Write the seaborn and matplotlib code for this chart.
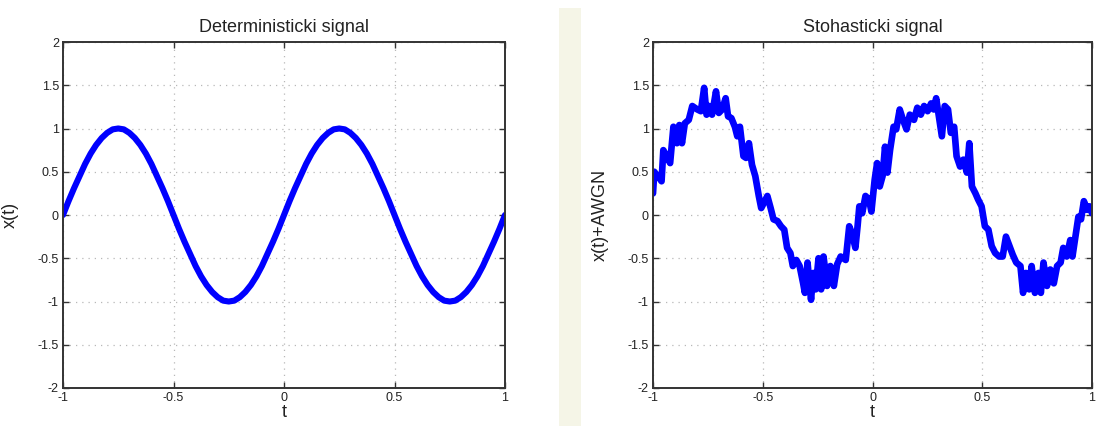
import numpy as np
import pandas as pd
import matplotlib
matplotlib.use("Agg")
import matplotlib.pyplot as plt
from matplotlib.patches import Rectangle
import seaborn as sns

# ---------------- data ----------------
t_det = [round(-1 + 0.025 * k, 3) for k in range(81)]
x_det = [0.00, 0.16, 0.31, 0.45, 0.59, 0.71, 0.81, 0.89, 0.95, 0.99,
         1.00, 0.99, 0.95, 0.89, 0.81, 0.71, 0.59, 0.45, 0.31, 0.16,
         0.00, -0.16, -0.31, -0.45, -0.59, -0.71, -0.81, -0.89, -0.95, -0.99,
         -1.00, -0.99, -0.95, -0.89, -0.81, -0.71, -0.59, -0.45, -0.31, -0.16,
         0.00, 0.16, 0.31, 0.45, 0.59, 0.71, 0.81, 0.89, 0.95, 0.99,
         1.00, 0.99, 0.95, 0.89, 0.81, 0.71, 0.59, 0.45, 0.31, 0.16,
         0.00, -0.16, -0.31, -0.45, -0.59, -0.71, -0.81, -0.89, -0.95, -0.99,
         -1.00, -0.99, -0.95, -0.89, -0.81, -0.71, -0.59, -0.45, -0.31, -0.16,
         0.00]

t_sto = [-1.000, -0.994, -0.989, -0.977, -0.961, -0.953, -0.938, -0.922, -0.907, -0.891,
         -0.880, -0.868, -0.855, -0.837, -0.821, -0.798, -0.782, -0.767, -0.756, -0.744,
         -0.731, -0.713, -0.700, -0.685, -0.669, -0.658, -0.643, -0.627, -0.616, -0.604,
         -0.588, -0.576, -0.563, -0.549, -0.534, -0.518, -0.507, -0.495, -0.479, -0.464,
         -0.451, -0.433, -0.417, -0.402, -0.389, -0.374, -0.363, -0.347, -0.332, -0.316,
         -0.308, -0.296, -0.280, -0.270, -0.259, -0.246, -0.234, -0.223, -0.207, -0.192,
         -0.176, -0.161, -0.145, -0.122, -0.106, -0.094, -0.078, -0.068, -0.060, -0.047,
         -0.032, -0.016, -0.005, 0.010, 0.021, 0.033, 0.046, 0.057, 0.068, 0.080,
         0.096, 0.108, 0.124, 0.139, 0.155, 0.170, 0.189, 0.204, 0.220, 0.235,
         0.251, 0.267, 0.279, 0.290, 0.305, 0.316, 0.329, 0.344, 0.357, 0.372,
         0.383, 0.399, 0.414, 0.430, 0.441, 0.453, 0.469, 0.481, 0.497, 0.512,
         0.528, 0.543, 0.559, 0.577, 0.593, 0.608, 0.624, 0.639, 0.655, 0.674,
         0.686, 0.699, 0.714, 0.725, 0.740, 0.756, 0.767, 0.779, 0.795, 0.810,
         0.826, 0.841, 0.857, 0.869, 0.885, 0.901, 0.911, 0.927, 0.938, 0.950,
         0.963, 0.978, 0.989, 1.000]
x_sto = [0.25, 0.50, 0.48, 0.45, 0.39, 0.75, 0.68, 0.60, 1.02, 0.83,
         1.04, 0.83, 1.06, 1.10, 1.26, 1.22, 1.20, 1.47, 1.16, 1.26,
         1.16, 1.43, 1.18, 1.22, 1.35, 1.14, 1.12, 1.02, 0.91, 1.02,
         0.68, 0.66, 0.83, 0.58, 0.45, 0.22, 0.08, 0.14, 0.22, 0.08,
         -0.05, -0.07, -0.13, -0.17, -0.38, -0.44, -0.59, -0.52, -0.59, -0.79,
         -0.90, -0.55, -0.98, -0.67, -0.86, -0.50, -0.86, -0.48, -0.82, -0.59,
         -0.82, -0.57, -0.48, -0.52, -0.13, -0.21, -0.38, -0.13, 0.10, 0.02,
         0.22, 0.18, 0.04, 0.41, 0.60, 0.33, 0.45, 0.79, 0.49, 0.75,
         1.02, 0.99, 1.22, 1.10, 0.99, 1.16, 1.10, 1.24, 1.16, 1.26,
         1.20, 1.29, 1.22, 1.35, 1.10, 0.91, 1.26, 1.22, 0.95, 1.02,
         0.68, 0.56, 0.64, 0.49, 0.83, 0.33, 0.25, 0.18, 0.10, -0.13,
         -0.17, -0.36, -0.44, -0.48, -0.48, -0.25, -0.36, -0.46, -0.55, -0.59,
         -0.90, -0.67, -0.86, -0.59, -0.90, -0.67, -0.90, -0.55, -0.82, -0.63,
         -0.79, -0.59, -0.55, -0.38, -0.48, -0.29, -0.48, -0.21, -0.02, -0.05,
         0.16, 0.06, 0.10, 0.02]

x_ticks = [-1, -0.5, 0, 0.5, 1]
x_ticklabels = ["-1", "-0.5", "0", "0.5", "1"]
y_ticks = [-2, -1.5, -1, -0.5, 0, 0.5, 1, 1.5, 2]
y_ticklabels = ["-2", "-1.5", "-1", "-0.5", "0", "0.5", "1", "1.5", "2"]
titles = ["Deterministicki signal", "Stohasticki signal"]
ylabels = ["x(t)", "x(t)+AWGN"]
xlabel = "t"

# ---------------- style ----------------
sns.set_theme(style="white")
plt.rcParams['font.family'] = ['Liberation Sans', 'DejaVu Sans']

fig = plt.figure(figsize=(10.97, 4.26), dpi=100)
fig.patch.set_facecolor("white")
# beige separator strip
fig.add_artist(Rectangle((559 / 1097, 0), 22 / 1097, 1 - 8 / 426,
                         transform=fig.transFigure, facecolor="#f5f5e7",
                         edgecolor="none", zorder=0))

ax1 = fig.add_axes([63 / 1097, 1 - 388 / 426, 442 / 1097, 346 / 426])
ax2 = fig.add_axes([653 / 1097, 1 - 388 / 426, 439 / 1097, 346 / 426])

df1 = pd.DataFrame({"t": t_det, "x": x_det})
df2 = pd.DataFrame({"t": t_sto, "x": x_sto})

sns.lineplot(data=df1, x="t", y="x", ax=ax1, color="#0000ff", linewidth=4.4,
             estimator=None, sort=False)
sns.lineplot(data=df2, x="t", y="x", ax=ax2, color="#0000ff", linewidth=4.8,
             estimator=None, sort=False)

for ax, title, ylab in zip([ax1, ax2], titles, ylabels):
    ax.set_xlim(-1, 1)
    ax.set_ylim(-2, 2)
    ax.set_xticks(x_ticks)
    ax.set_xticklabels(x_ticklabels)
    ax.set_yticks(y_ticks)
    ax.set_yticklabels(y_ticklabels)
    ax.set_facecolor("white")
    ax.grid(True, linestyle=(0, (1, 4)), color="#b8b8b8", linewidth=0.9)
    for sp in ax.spines.values():
        sp.set_visible(True)
        sp.set_color("#333333")
        sp.set_linewidth(1.4)
    ax.tick_params(direction="in", length=4, width=1, colors="#333333",
                   top=True, right=True, bottom=True, left=True,
                   labelsize=9, labelcolor="#222222", pad=3)
    ax.set_title(title, fontsize=13, color="#222222", pad=7)
    ax.set_xlabel(xlabel, fontsize=13, color="#222222", labelpad=0)
    ax.set_ylabel(ylab, fontsize=13, color="#222222")
    ax.yaxis.set_label_coords(-0.10, 0.5)

fig.savefig("out.png", dpi=100)
